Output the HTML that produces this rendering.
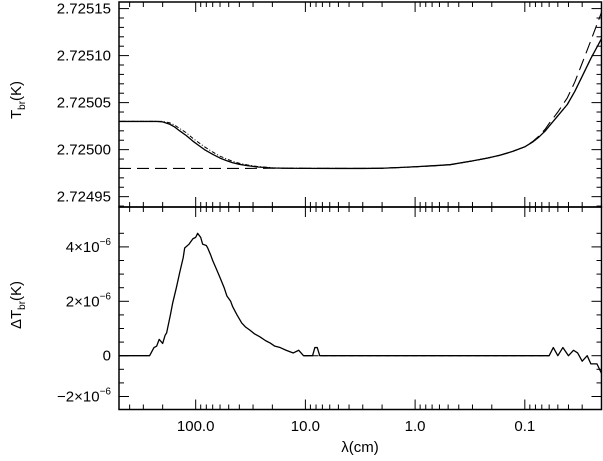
<!DOCTYPE html>
<html><head><meta charset="utf-8"><style>
html,body{margin:0;padding:0;background:#fff}
svg{display:block;font-family:"Liberation Sans","DejaVu Sans",sans-serif}
</style></head><body>
<svg id="chart" width="603" height="461" viewBox="0 0 603 461" xmlns="http://www.w3.org/2000/svg">
<g id="g"></g>
</svg>
<script>
// Upper panel data: brightness temperature excess above 2.72498 K (units 1e-5 K)
const lamTop = [500,300,226,200,172,155,140,122,106,94,83,70,60,52,46,40,34,27,20,15,10,5,3,2,1.38,1,0.7,0.48,0.3,0.22,0.169,0.13,0.1,0.085,0.075,0.065,0.059,0.05,0.041,0.035,0.03,0.025,0.02];
const solidTop = [5.0,5.0,5.0,4.95,4.7,4.4,4.0,3.5,2.9,2.45,2.0,1.5,1.1,0.82,0.6,0.44,0.3,0.15,0.05,0.02,0.01,0,0,0.02,0.1,0.18,0.28,0.4,0.8,1.1,1.4,1.8,2.3,2.8,3.3,4.0,4.6,5.6,6.8,8.2,9.8,11.7,13.8];
const dottedTop = [5.0,5.0,5.0,5.0,4.85,4.6,4.25,3.8,3.2,2.75,2.3,1.75,1.3,1.0,0.75,0.55,0.38,0.2,0.08,0.03,0.01,0,0,0.02,0.1,0.18,0.28,0.4,0.8,1.1,1.4,1.8,2.3,2.8,3.3,4.0,4.6,5.6,6.8,8.2,9.8,11.7,13.8];
const dashedTop = [0,0,0,0,0,0,0,0,0,0,0,0,0,0,0,0,0,0.01,0.02,0.02,0.01,0,0,0.02,0.1,0.18,0.28,0.4,0.8,1.1,1.4,1.8,2.3,2.85,3.4,4.2,4.9,6.0,7.5,9.2,11.2,13.6,16.6];
const topTickLabels = ["2.72495","2.72500","2.72505","2.72510","2.72515"];
const topTickValues = [2.72495,2.72500,2.72505,2.72510,2.72515];
// Lower panel: Delta T (units 1e-6 K)
const lamBot = [500,263,240,227,215,200,190,184,170,162,150,140,130,126,115,106,100,96,90,86.4,80,77.7,73,70,65,60.4,55,52,48,46,42,38,35,32.3,29,26.1,23,21,19,17,15,12.9,11.5,10.4,9,8.6,8.2,7.8,7.4,7.0,1,0.06,0.055,0.05,0.045,0.04,0.036,0.033,0.03,0.027,0.025,0.022,0.02];
const dT = [0,0,0.3,0.35,0.6,0.45,0.75,0.84,1.5,1.94,2.5,3.05,3.6,3.96,4.1,4.3,4.35,4.5,4.35,4.1,4.05,3.96,3.7,3.5,3.2,2.9,2.5,2.2,2.0,1.8,1.5,1.2,1.05,0.95,0.8,0.7,0.55,0.47,0.35,0.3,0.2,0.1,0.2,0,0,0,0.3,0.3,0,0,0,0,0.3,0,0.3,0,0.2,0.1,-0.2,0,-0.3,-0.3,-0.65];
const xTickLabels = ["100.0","10.0","1.0","0.1"];
const xTickValues = [100,10,1,0.1];

const L=119,R=601.5,T0=2,M=207,B=409.5;
const LMAX=500,LMIN=0.02;
function xs(l){return L+(Math.log10(LMAX)-Math.log10(l))/(Math.log10(LMAX)-Math.log10(LMIN))*(R-L);}
const YT_LO=2.724939,YT_HI=2.725157;
function yTop(v){return M-(v-YT_LO)/(YT_HI-YT_LO)*(M-T0);}
function yTopEx(e){return yTop(2.72498+e*1e-5);}
function yBot(v){return 355.7-v*27.2;}

const NS="http://www.w3.org/2000/svg";
const g=document.getElementById('g');
function mk(tag,attrs,name){const e=document.createElementNS(NS,tag);for(const k in attrs)e.setAttribute(k,attrs[k]);


g.appendChild(e);return e;}
function line(x1,y1,x2,y2,name,w){return mk('line',{x1,y1,x2,y2,stroke:'#000','stroke-width':w||1},name);}
function text(x,y,s,anchor,name,size){const t=mk('text',{x,y,'text-anchor':anchor,'font-size':size||14,fill:'#000'},name);t.textContent=s;return t;}

// frames
mk('rect',{x:L,y:T0,width:R-L,height:M-T0,fill:'none',stroke:'#000','stroke-width':1.5},'top-panel-frame');
mk('rect',{x:L,y:M,width:R-L,height:B-M,fill:'none',stroke:'#000','stroke-width':1.5},'bottom-panel-frame');

// x ticks
for(let d=-2;d<=2;d++){for(let m=1;m<=9;m++){const l=m*Math.pow(10,d);if(l>LMAX||l<LMIN)continue;const x=xs(l);const len=m===1?10:5;
 [T0,M,B].forEach((yy)=>{ if(yy!==T0) line(x,yy,x,yy-len,'x-tick',1); if(yy!==B) line(x,yy,x,yy+len,'x-tick',1); });}}
xTickValues.forEach((v,i)=>text(xs(v),431,xTickLabels[i],'middle','x-tick-label',15));
text(360,452,'λ(cm)','middle','x-axis-title',15);

// top y ticks
for(let v=2.72494;v<=2.725155;v+=0.00001){const y=yTop(v);if(y<T0||y>M)continue;const major=Math.round(v*1e5)%5===0;const len=major?10:5;
 line(L,y,L+len,y,'y-tick-top',1);line(R,y,R-len,y,'y-tick-top',1);}
topTickValues.forEach((v,i)=>text(111,yTop(v)+5,topTickLabels[i],'end','y-tick-label-top',15));
const tt=text(0,0,'','middle','y-axis-title-top',15);tt.setAttribute('transform','translate(21,100) rotate(-90)');
tt.innerHTML='T<tspan font-size="10" dy="4">br</tspan><tspan dy="-4">(K)</tspan>';

// bottom y ticks
for(let k=-3;k<=9;k++){const v=k*0.5;const y=yBot(v);if(y<M||y>B)continue;const major=(k>=0&&k%4===0)||k===-3;const len=major?10:5;
 line(L,y,L+len,y,'y-tick-bottom',1);line(R,y,R-len,y,'y-tick-bottom',1);}
function sci(y,mant,name){const t=text(111,y+5,'','end',name,15);t.innerHTML=mant+'×10<tspan font-size="10" dy="-7">−6</tspan>';}
sci(yBot(4),'4',"y-tick-label-4e-6");sci(yBot(2),'2',"y-tick-label-2e-6");
text(111,yBot(0)+5,'0','end','y-tick-label-0',15);
sci(yBot(-1.5),'−2',"y-tick-label-neg2e-6");
const tb=text(0,0,'','middle','y-axis-title-bottom',15);tb.setAttribute('transform','translate(21,305) rotate(-90)');
tb.innerHTML='ΔT<tspan font-size="10" dy="4">br</tspan><tspan dy="-4">(K)</tspan>';

// series
function path(lams,vals,yf,name,dash,w){const d=lams.map((l,i)=>(i?'L':'M')+xs(l).toFixed(2)+','+yf(vals[i]).toFixed(2)).join(' ');
 const a={d,fill:'none',stroke:'#000','stroke-width':w||1.2,'stroke-linejoin':'round'};if(dash)a['stroke-dasharray']=dash;return mk('path',a,name);}
path(lamTop,dashedTop,yTopEx,'dashed-series','12,6',1.1);
path(lamTop,dottedTop,yTopEx,'dotted-series','1,2,4,2',1);
path(lamTop,solidTop,yTopEx,'solid-series',null,1.3);
line(xs(10.4),yBot(0),xs(0.06),yBot(0),'zero-dashed-line',1).setAttribute('stroke-dasharray','6,3');
path(lamBot,dT,yBot,'delta-t-series',null,1.3);
</script>
</body></html>
